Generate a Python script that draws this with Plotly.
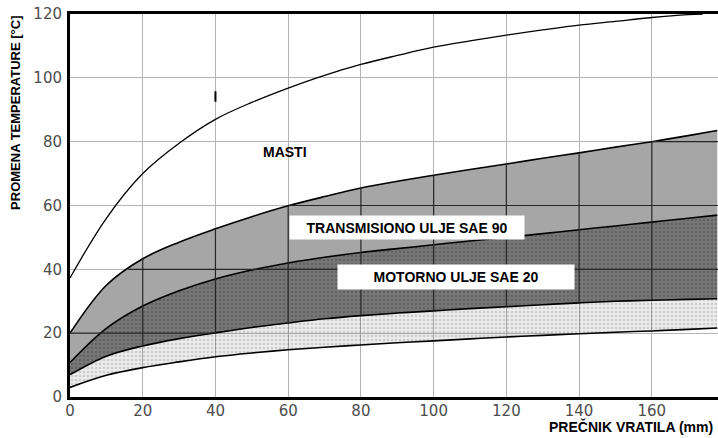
import numpy as np
import plotly.graph_objects as go

# Shaft diameter (mm) at which the band curves are sampled
diameter = [0, 10, 20, 30, 40, 50, 60, 70, 80, 90, 100, 110, 120, 130, 140, 150, 160, 170, 178]

# Boundary curves of the temperature-rise bands (°C)
bottom_edge = [3, 6.8, 9.2, 11, 12.6, 13.8, 14.8, 15.6, 16.3, 17, 17.6, 18.2, 18.8,
               19.3, 19.8, 20.3, 20.7, 21.2, 21.6]
stipple_edge = [7, 12.8, 16, 18.3, 20.1, 21.8, 23.2, 24.5, 25.5, 26.3, 27, 27.7, 28.3,
                28.9, 29.5, 30, 30.3, 30.6, 30.8]
motor_oil_top = [10.8, 21.5, 28.5, 33.3, 37, 39.8, 42, 43.8, 45.3, 46.5, 47.7, 48.9, 50,
                 51.2, 52.4, 53.6, 54.8, 56, 57]
gear_oil_top = [20, 35, 43.3, 48.5, 52.7, 56.5, 59.9, 62.8, 65.5, 67.6, 69.5, 71.3, 73,
                74.8, 76.5, 78.3, 80, 81.9, 83.5]

# Grease curve
grease_diameter = [0, 10, 20, 30, 40, 50, 60, 70, 80, 90, 100, 110, 120, 130, 140, 150,
                   160, 170, 174]
grease_rise = [37.3, 56, 70, 79.5, 87, 92.3, 96.8, 100.8, 104.2, 107, 109.6, 111.6, 113.4,
               115, 116.5, 117.7, 118.9, 119.8, 120]

x_ticks = [0, 20, 40, 60, 80, 100, 120, 140, 160]
y_ticks = [0, 20, 40, 60, 80, 100, 120]

X_MAX = 178.2
Y_MAX = 120

fig = go.Figure()

line_style = dict(color="black", width=1.6, shape="spline", smoothing=1.0)

# lowest curve (no fill)
fig.add_trace(go.Scatter(x=diameter, y=bottom_edge, mode="lines", line=line_style,
                         hoverinfo="skip"))
# light stippled band
fig.add_trace(go.Scatter(
    x=diameter, y=stipple_edge, mode="lines", line=line_style, fill="tonexty",
    fillcolor="rgba(0,0,0,0.07)",
    fillpattern=dict(shape=".", size=4, solidity=0.35,
                     bgcolor="rgba(0,0,0,0.07)", fgcolor="rgba(0,0,0,0.28)"),
    hoverinfo="skip"))
# dark stippled band (motor oil SAE 20)
fig.add_trace(go.Scatter(
    x=diameter, y=motor_oil_top, mode="lines", line=line_style, fill="tonexty",
    fillcolor="#737373",
    fillpattern=dict(shape=".", size=4, solidity=0.35,
                     bgcolor="#777777", fgcolor="#505050"),
    hoverinfo="skip"))
# grey band (gear oil SAE 90)
fig.add_trace(go.Scatter(
    x=diameter, y=gear_oil_top, mode="lines", line=line_style, fill="tonexty",
    fillcolor="#a6a6a6", hoverinfo="skip"))

# grid lines crossing the shaded bands are drawn dark
xs = np.array(diameter, dtype=float)
upper = np.array(gear_oil_top, dtype=float)
lower = np.array(stipple_edge, dtype=float)
seg_x, seg_y = [], []
for g in x_ticks[1:]:
    seg_x += [g, g, None]
    seg_y += [float(np.interp(g, xs, lower)), float(np.interp(g, xs, upper)), None]
for g in y_ticks[1:-1]:
    if g > upper.max():
        continue
    x_left = float(np.interp(g, upper, xs)) if g > upper[0] else 0.0
    x_right = float(np.interp(g, lower, xs)) if g < lower.max() else X_MAX
    if x_right > x_left:
        seg_x += [x_left, x_right, None]
        seg_y += [g, g, None]
fig.add_trace(go.Scatter(x=seg_x, y=seg_y, mode="lines",
                         line=dict(color="#262626", width=1.2), hoverinfo="skip"))

# grease curve
fig.add_trace(go.Scatter(x=grease_diameter, y=grease_rise, mode="lines",
                         line=dict(color="black", width=1.3, shape="spline", smoothing=1.0),
                         hoverinfo="skip"))

label_font = dict(family="Liberation Sans, Arial, sans-serif", size=14, color="black")

fig.add_annotation(x=59, y=76.7, text="<b>MASTI</b>", showarrow=False, font=label_font)
fig.add_annotation(x=92.7, y=53, text="<b>TRANSMISIONO ULJE SAE 90</b>", showarrow=False,
                   font=label_font, bgcolor="white", borderpad=2, width=230, height=19)
fig.add_annotation(x=106.2, y=37.6, text="<b>MOTORNO ULJE SAE 20</b>", showarrow=False,
                   font=label_font, bgcolor="white", borderpad=2, width=232, height=20)

# axis titles
fig.add_annotation(xref="paper", yref="paper", x=-0.085, y=1.0, xanchor="center",
                   yanchor="top", textangle=-90, showarrow=False,
                   text="<b>PROMENA TEMPERATURE [°C]</b>",
                   font=dict(family="Liberation Sans, Arial, sans-serif", size=13,
                             color="black"))
fig.add_annotation(xref="paper", yref="paper", x=0.995, y=-0.076, xanchor="right",
                   yanchor="middle", showarrow=False,
                   text="<b>PREČNIK VRATILA (mm)</b>",
                   font=dict(family="Liberation Sans, Arial, sans-serif", size=14,
                             color="black"))

# small stray tick on the 40 mm grid line
fig.add_shape(type="line", x0=40, x1=40, y0=92.5, y1=95.8,
              line=dict(color="black", width=2))

tick_font = dict(family="DejaVu Sans, sans-serif", size=15, color="#4d4d4d")

fig.update_xaxes(range=[0, X_MAX], tickvals=x_ticks, ticktext=[str(v) for v in x_ticks],
                 showgrid=True, gridcolor="#b4b4b4", gridwidth=1,
                 showline=True, linecolor="black", linewidth=3, mirror=True,
                 zeroline=False, ticks="", tickfont=tick_font, ticklabelstandoff=-2)
fig.update_yaxes(range=[0, Y_MAX], tickvals=y_ticks, ticktext=[str(v) for v in y_ticks],
                 showgrid=True, gridcolor="#b4b4b4", gridwidth=1,
                 showline=True, linecolor="black", linewidth=3,
                 zeroline=False, ticks="", tickfont=tick_font, ticklabelstandoff=2)

fig.update_layout(width=718, height=438, margin=dict(l=70, r=0, t=14, b=41),
                  plot_bgcolor="white", paper_bgcolor="white", showlegend=False)

fig.write_html("out.html")
